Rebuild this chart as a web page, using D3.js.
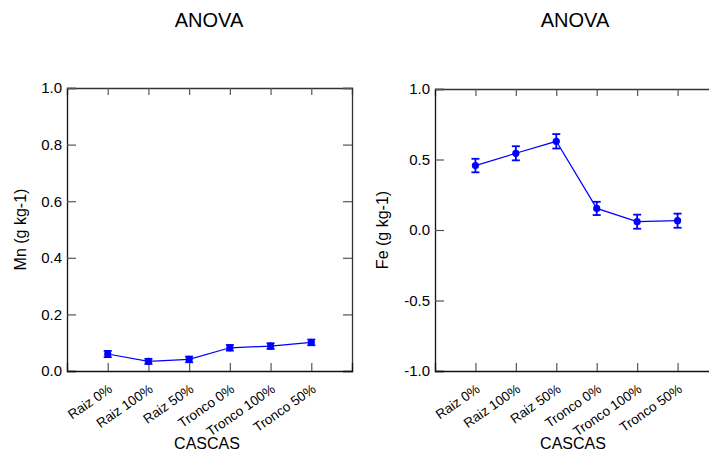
<!DOCTYPE html>
<html>
<head>
<meta charset="utf-8">
<script src="https://cdn.jsdelivr.net/npm/d3@7"></script>
<style>
  body { margin: 0; background: #fff; }
  svg { display: block; font-family: "Liberation Sans", Arial, sans-serif; }
</style>
</head>
<body>
<div id="vis"></div>
<script>
var categories = ["Raiz 0%", "Raiz 100%", "Raiz 50%", "Tronco 0%", "Tronco 100%", "Tronco 50%"];

var mnValues = [0.060, 0.034, 0.041, 0.082, 0.088, 0.101];
var mnErrors = [0.011, 0.009, 0.010, 0.010, 0.010, 0.010];
var mnTicks = [0, 0.2, 0.4, 0.6, 0.8, 1.0];

var feValues = [0.457, 0.544, 0.629, 0.153, 0.059, 0.066];
var feErrors = [0.048, 0.050, 0.051, 0.047, 0.050, 0.050];
var feTicks = [-1.0, -0.5, 0, 0.5, 1.0];

var svg = d3.select("#vis")
  .append("svg")
  .attr("width", 709)
  .attr("height", 456);

function panel(opt) {
  var w = opt.width, h = opt.height;

  var x = d3.scalePoint()
    .domain(categories)
    .range([0, w])
    .padding(1);

  var y = d3.scaleLinear()
    .domain(opt.domain)
    .range([h, 0]);

  var g = svg.append("g")
    .attr("transform", "translate(" + opt.left + "," + opt.top + ")");

  // frame ticks on top and right, no labels
  g.append("g")
    .attr("class", "top")
    .call(d3.axisTop(x).tickSize(-7).tickFormat(""));
  g.append("g")
    .attr("class", "right")
    .attr("transform", "translate(" + w + ",0)")
    .call(d3.axisRight(y).tickValues(opt.ticks).tickSize(-9).tickFormat(""));

  var yAxis = g.append("g")
    .call(d3.axisLeft(y).tickValues(opt.ticks).tickSize(-9).tickPadding(5)
      .tickFormat(function(d) { return d.toFixed(1); }));
  yAxis.selectAll("text").style("font-size", "15px").attr("fill", "#000");

  var xAxis = g.append("g")
    .attr("transform", "translate(0," + h + ")")
    .call(d3.axisBottom(x).tickSize(-8));
  xAxis.selectAll("text")
    .attr("x", 0).attr("y", 0).attr("dy", 0)
    .attr("text-anchor", "end")
    .attr("transform", "translate(5,20) rotate(-35)")
    .style("font-size", "13.5px")
    .attr("fill", "#000");

  g.selectAll(".domain").attr("stroke", "#111").attr("stroke-width", 1.3);
  g.selectAll(".tick line").attr("stroke", "#555").attr("stroke-width", 1.2);
  g.selectAll(".top .domain, .right .domain").attr("stroke", "#333");

  // title and axis labels
  svg.append("text")
    .attr("x", opt.left + opt.center)
    .attr("y", 27)
    .attr("text-anchor", "middle")
    .style("font-size", "20px")
    .text("ANOVA");

  svg.append("text")
    .attr("x", opt.left + opt.center - 2)
    .attr("y", 449)
    .attr("text-anchor", "middle")
    .style("font-size", "16px")
    .text("CASCAS");

  svg.append("text")
    .attr("transform", "translate(" + (opt.left - opt.ylabelOffset) + "," + (opt.top + h / 2) + ") rotate(-90)")
    .attr("text-anchor", "middle")
    .style("font-size", "16px")
    .text(opt.ylabel);

  var data = categories.map(function(c, i) {
    return { cat: c, v: opt.values[i], e: opt.errors[i] };
  });

  var line = d3.line()
    .x(function(d) { return x(d.cat); })
    .y(function(d) { return y(d.v); });

  g.append("path")
    .datum(data)
    .attr("d", line)
    .attr("fill", "none")
    .attr("stroke", "#0000ff")
    .attr("stroke-width", 1.2);

  var err = g.selectAll(".err")
    .data(data)
    .enter().append("g")
    .attr("class", "err")
    .attr("stroke", "#0000ff")
    .attr("stroke-width", 1.8);

  err.append("line")
    .attr("x1", function(d) { return x(d.cat); })
    .attr("x2", function(d) { return x(d.cat); })
    .attr("y1", function(d) { return y(d.v - d.e); })
    .attr("y2", function(d) { return y(d.v + d.e); });
  err.append("line")
    .attr("x1", function(d) { return x(d.cat) - 4; })
    .attr("x2", function(d) { return x(d.cat) + 4; })
    .attr("y1", function(d) { return y(d.v + d.e); })
    .attr("y2", function(d) { return y(d.v + d.e); });
  err.append("line")
    .attr("x1", function(d) { return x(d.cat) - 4; })
    .attr("x2", function(d) { return x(d.cat) + 4; })
    .attr("y1", function(d) { return y(d.v - d.e); })
    .attr("y2", function(d) { return y(d.v - d.e); });

  g.selectAll(".dot")
    .data(data)
    .enter().append("circle")
    .attr("class", "dot")
    .attr("cx", function(d) { return x(d.cat); })
    .attr("cy", function(d) { return y(d.v); })
    .attr("r", 3.6)
    .attr("fill", "#0000ff");
}

panel({
  left: 67, top: 88, width: 285, height: 283,
  center: 142, domain: [0, 1], ticks: mnTicks,
  values: mnValues, errors: mnErrors,
  ylabel: "Mn (g kg-1)", ylabelOffset: 41
});

panel({
  left: 435, top: 89, width: 283, height: 282,
  center: 140, domain: [-1, 1], ticks: feTicks,
  values: feValues, errors: feErrors,
  ylabel: "Fe (g kg-1)", ylabelOffset: 47
});
</script>
</body>
</html>
